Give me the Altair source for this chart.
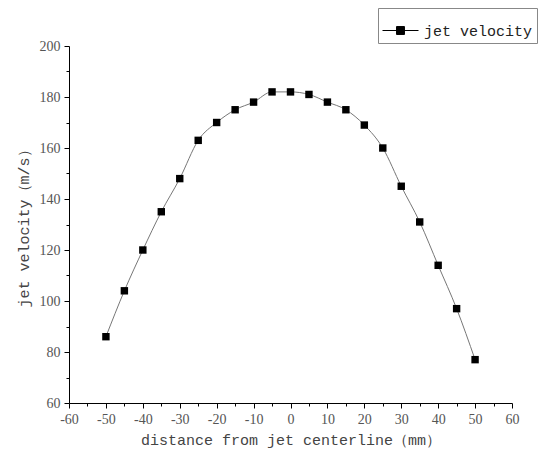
import altair as alt
import pandas as pd

# Jet velocity profile across the jet centerline
distance_mm = [-50, -45, -40, -35, -30, -25, -20, -15, -10, -5, 0,
               5, 10, 15, 20, 25, 30, 35, 40, 45, 50]
velocity_ms = [86, 104, 120, 135, 148, 163, 170, 175, 178, 182, 182,
               181, 178, 175, 169, 160, 145, 131, 114, 97, 77]
series_name = "jet velocity"

x_major = list(range(-60, 61, 10))
x_minor = list(range(-55, 60, 10))
y_major = list(range(60, 201, 20))
y_minor = list(range(70, 200, 20))

df = pd.DataFrame({"d": distance_mm, "v": velocity_ms, "series": series_name})

TITLE_FONT = "Courier New"
LABEL_FONT = "Times New Roman"
# plain hyphen for negative numbers
HYPHEN_LABEL = "datum.value < 0 ? '-' + abs(datum.value) : '' + datum.value"

xs = alt.Scale(domain=[-60, 60], nice=False, zero=False)
ys = alt.Scale(domain=[60, 200], nice=False, zero=False)

major_x = alt.Axis(values=x_major, orient="bottom", tickSize=5, grid=False,
                   title="distance from jet centerline（mm）", titleFont=TITLE_FONT,
                   titleFontSize=15, titleFontWeight="normal", titleColor="#444",
                   titlePadding=6, labelFont=LABEL_FONT, labelFontSize=14,
                   labelColor="#555", labelPadding=4, domainColor="black",
                   tickColor="black", labelFlush=False, labelExpr=HYPHEN_LABEL)
major_y = alt.Axis(values=y_major, orient="left", tickSize=5, grid=False,
                   title="jet velocity（m/s）", titleFont=TITLE_FONT,
                   titleFontSize=15, titleFontWeight="normal", titleColor="#444",
                   titlePadding=8, labelFont=LABEL_FONT, labelFontSize=14,
                   labelColor="#555", labelPadding=4, domainColor="black",
                   tickColor="black", labelFlush=False, labelExpr=HYPHEN_LABEL)
minor_x = alt.Axis(values=x_minor, orient="bottom", tickSize=3, labels=False,
                   domain=False, grid=False, title=None, tickColor="black")
minor_y = alt.Axis(values=y_minor, orient="left", tickSize=3, labels=False,
                   domain=False, grid=False, title=None, tickColor="black")

base = alt.Chart(df)

line = base.mark_line(color="#777", strokeWidth=1, interpolate="monotone").encode(
    x=alt.X("d:Q", scale=xs, axis=major_x),
    y=alt.Y("v:Q", scale=ys, axis=major_y),
)

points = base.mark_point(shape="square", filled=True, size=55, opacity=1).encode(
    x=alt.X("d:Q", scale=xs, axis=minor_x),
    y=alt.Y("v:Q", scale=ys, axis=minor_y),
    color=alt.Color("series:N", scale=alt.Scale(range=["black"]),
                    legend=alt.Legend(
                        title=None, orient="none", legendX=309, legendY=-38,
                        symbolType="M-1,0H1M-0.22,-0.22H0.22V0.22H-0.22Z",
                        symbolSize=1296, symbolStrokeColor="black",
                        symbolFillColor="black", symbolStrokeWidth=1,
                        labelFont=TITLE_FONT, labelFontSize=15, labelColor="#222",
                        strokeColor="#888", padding=4, labelOffset=5)),
)

chart = alt.layer(line, points).resolve_axis(x="independent", y="independent").properties(
    width=443, height=357,
    autosize=alt.AutoSizeParams(type="none"),
    padding={"left": 69, "top": 46, "right": 37, "bottom": 57},
    view=alt.ViewBackground(stroke="transparent", strokeWidth=0),
).configure_view(stroke="transparent", strokeWidth=0).configure(background="white")

chart.save("out.html", embed_options={"renderer": "svg", "actions": False})
